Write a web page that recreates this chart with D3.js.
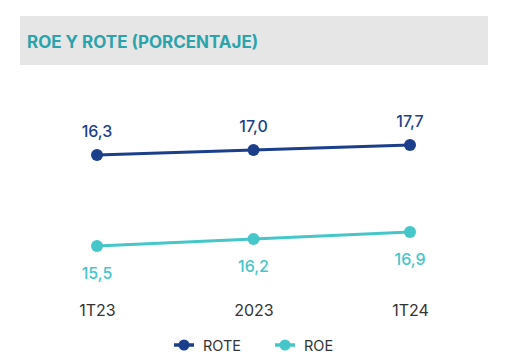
<!DOCTYPE html>
<html><head><meta charset="utf-8">
<script src="https://cdn.jsdelivr.net/npm/d3@7"></script>
<style>body{margin:0;background:#fff;}svg{display:block;font-family:Inter,"Open Sans",sans-serif;}</style>
</head><body>
<svg id="c" width="509" height="362"></svg>
<script>
const categories = ["1T23", "2023", "1T24"];
const rote = [16.3, 17.0, 17.7];
const roe = [15.5, 16.2, 16.9];
const roteLabels = ["16,3", "17,0", "17,7"];
const roeLabels = ["15,5", "16,2", "16,9"];
const title = "ROE Y ROTE (PORCENTAJE)";
const seriesNames = ["ROTE", "ROE"];

const svg = d3.select("#c");
const dark = "#1b3f8b", teal = "#45c6c9";

svg.append("rect").attr("x", 20).attr("y", 16).attr("width", 468).attr("height", 49).attr("fill", "#e6e6e6");
svg.append("text").attr("x", 27).attr("y", 48).text(title)
  .attr("fill", "#2ba3ab").attr("font-size", 17).attr("font-weight", 700);

const x = d3.scalePoint().domain(categories).range([97, 410]);
const yRote = d3.scaleLinear().domain([16.3, 17.7]).range([155, 145]);
const yRoe = d3.scaleLinear().domain([15.5, 16.9]).range([246, 232]);

function series(vals, labels, y, color, dy) {
  const g = svg.append("g");
  const line = d3.line().x((d, i) => x(categories[i])).y(d => y(d));
  g.append("path").datum(vals).attr("d", line).attr("fill", "none").attr("stroke", color).attr("stroke-width", 3);
  g.selectAll("circle").data(vals).join("circle")
    .attr("cx", (d, i) => x(categories[i])).attr("cy", d => y(d)).attr("r", 6).attr("fill", color);
  g.selectAll("text").data(vals).join("text")
    .attr("x", (d, i) => x(categories[i])).attr("y", d => y(d) + dy)
    .attr("text-anchor", "middle").attr("fill", color).attr("font-size", 16).attr("font-weight", 500)
    .text((d, i) => labels[i]);
}
series(rote, roteLabels, yRote, dark, -18);
series(roe, roeLabels, yRoe, teal, 33);

const axis = d3.axisBottom(x).tickSize(0).tickPadding(0);
const ag = svg.append("g").attr("transform", "translate(0,302)").call(axis);
ag.select(".domain").remove();
ag.selectAll("text").attr("font-size", 16).attr("fill", "#333").attr("font-family", "Inter,sans-serif").attr("dy", "0.85em");

const leg = [{n: seriesNames[0], c: dark, x: 174}, {n: seriesNames[1], c: teal, x: 275}];
leg.forEach(l => {
  svg.append("line").attr("x1", l.x).attr("x2", l.x + 20).attr("y1", 345).attr("y2", 345).attr("stroke", l.c).attr("stroke-width", 3.5);
  svg.append("circle").attr("cx", l.x + 10).attr("cy", 345).attr("r", 5.5).attr("fill", l.c);
  svg.append("text").attr("x", l.x + 29).attr("y", 350.5).text(l.n).attr("fill", "#333").attr("font-size", 14.5);
});
</script>
</body></html>
